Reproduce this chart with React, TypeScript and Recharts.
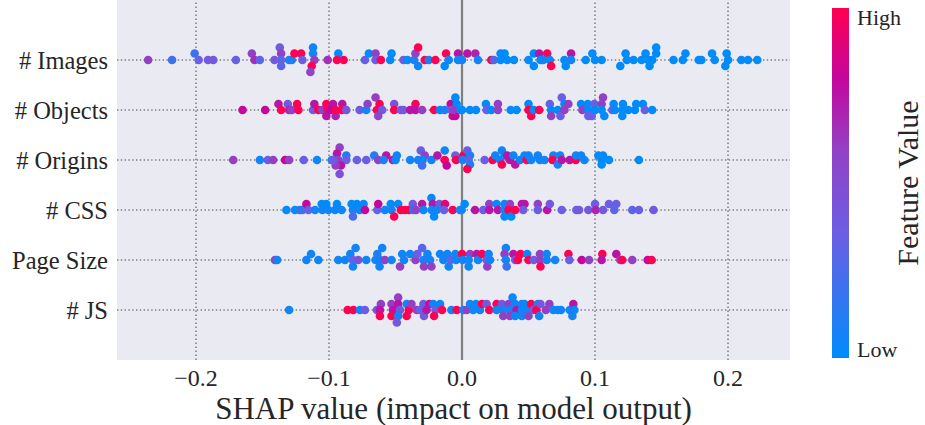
import React from "react";
import { ScatterChart, Scatter, XAxis, YAxis, CartesianGrid, ReferenceLine } from "recharts";

// Each point: [SHAP value, vertical swarm offset (in row units), normalised feature value 0..1]
type Pt = [number, number, number];

const featureNames = ["# JS", "Page Size", "# CSS", "# Origins", "# Objects", "# Images"];

const imagesPts: Pt[] = [
  [-0.236, 0, 0.6], [-0.218, 0, 0.2], [-0.201, 0.13, 0.2], [-0.198, 0, 0.35], [-0.191, 0, 0.4], [-0.187, 0, 0.4],
  [-0.17, 0, 0.35], [-0.158, 0.13, 0.6], [-0.156, 0, 0.65], [-0.152, 0, 0.3], [-0.137, 0.25, 0.4], [-0.136, 0.13, 0.6],
  [-0.141, 0, 0.4], [-0.136, 0, 0.3], [-0.136, -0.12, 0.3], [-0.13, 0, 0.1], [-0.128, 0, 0.1], [-0.126, 0.13, 1],
  [-0.121, 0.13, 1], [-0.12, 0, 0.35], [-0.112, 0.25, 0.05], [-0.112, 0.13, 0.05], [-0.111, 0, 0.6], [-0.113, -0.12, 1],
  [-0.114, -0.24, 0.55], [-0.101, 0, 0.65], [-0.093, 0.13, 0], [-0.094, 0, 1], [-0.089, 0, 1], [-0.073, 0, 0.35],
  [-0.07, 0.13, 0], [-0.065, 0.13, 0.6], [-0.065, 0, 0.35], [-0.061, 0, 1], [-0.053, 0.13, 0], [-0.054, 0, 0],
  [-0.044, 0, 0.4], [-0.041, 0, 0], [-0.036, 0, 0.1], [-0.035, 0.13, 0.6], [-0.033, 0.25, 1], [-0.033, -0.12, 0.05],
  [-0.028, 0, 1], [-0.025, 0, 0.1], [-0.02, 0, 1], [-0.012, 0.13, 1], [-0.013, -0.12, 0], [-0.01, 0, 0.05],
  [-0.003, 0.13, 0.75], [-0.003, 0, 0.05], [0.0, 0, 0.05], [0.004, 0.13, 0.75], [0.01, 0.13, 0.7], [0.012, 0, 0.05],
  [0.022, 0, 1], [0.024, 0, 0.3], [0.029, 0.13, 0], [0.032, 0.13, 0], [0.029, 0, 0], [0.034, 0, 0], [0.039, 0, 0],
  [0.05, 0, 0], [0.054, 0.13, 0], [0.058, 0.13, 0.75], [0.064, 0.13, 1], [0.054, -0.12, 0], [0.059, 0, 0],
  [0.061, 0, 0.05], [0.066, 0, 0], [0.067, -0.12, 1], [0.077, 0, 0], [0.082, 0.13, 0.75], [0.082, 0, 0.05],
  [0.078, -0.12, 0], [0.093, 0, 0], [0.098, 0.13, 0], [0.1, 0, 0], [0.105, 0, 0], [0.119, -0.12, 0], [0.123, 0.13, 0],
  [0.124, 0, 0], [0.129, 0, 0], [0.135, 0, 0], [0.138, 0.13, 0], [0.14, 0, 0], [0.141, -0.12, 0], [0.146, 0.25, 0],
  [0.146, 0.13, 0], [0.143, 0, 0], [0.159, 0, 0], [0.168, 0.13, 0], [0.166, 0, 0], [0.178, 0, 0], [0.18, 0, 0],
  [0.188, 0.13, 0], [0.19, 0, 0], [0.199, 0.13, 0], [0.2, 0, 0], [0.198, -0.12, 0], [0.21, 0, 0], [0.215, 0, 0],
  [0.222, 0, 0],
];

const objectsPts: Pt[] = [
  [-0.165, 0, 0.8], [-0.148, 0, 0.8], [-0.138, 0.12, 0.75], [-0.136, 0, 1], [-0.131, 0.12, 0.4], [-0.13, 0, 0.7],
  [-0.128, 0, 0.6], [-0.124, 0.12, 1], [-0.123, 0, 1], [-0.112, 0, 0.4], [-0.111, 0.12, 0.75], [-0.108, 0, 1],
  [-0.105, 0, 0.55], [-0.102, 0.12, 1], [-0.101, 0, 1], [-0.102, -0.12, 0.75], [-0.097, 0.12, 0.75], [-0.099, 0, 0.8],
  [-0.095, -0.12, 0.7], [-0.095, 0, 1], [-0.09, 0.12, 0.75], [-0.0905, 0, 1], [-0.087, 0, 0.4], [-0.077, 0, 0.4],
  [-0.072, 0, 0.05], [-0.071, 0.12, 0.6], [-0.065, 0.25, 0.6], [-0.062, 0.12, 1], [-0.064, 0, 1], [-0.06, 0, 0.4],
  [-0.063, -0.12, 0.55], [-0.051, 0.12, 0.45], [-0.051, 0, 1], [-0.046, 0, 0.4], [-0.044, 0, 0.4], [-0.039, 0, 0.75],
  [-0.035, 0.12, 1], [-0.035, 0, 0.75], [-0.03, 0, 0.6], [-0.021, 0, 1], [-0.0165, 0, 0], [-0.013, 0, 0.1],
  [-0.0085, 0.12, 0.8], [-0.005, 0.25, 0], [-0.004, 0.12, 0], [-0.008, 0, 0.35], [-0.007, -0.12, 0.85],
  [-0.005, -0.12, 0.8], [-0.0065, 0, 0.6], [-0.001, 0, 0], [0.0, 0, 0], [0.006, 0, 0], [0.0105, 0, 0],
  [0.018, 0.12, 0], [0.0185, 0, 0.35], [0.022, 0, 0], [0.027, 0.12, 0.6], [0.027, 0, 0.6], [0.0366, 0, 0],
  [0.041, 0, 0], [0.05, 0.12, 0], [0.05, 0, 1], [0.052, -0.12, 1], [0.054, 0, 0], [0.058, 0, 1], [0.066, 0.12, 0.35],
  [0.067, 0, 0], [0.067, -0.12, 0.6], [0.072, 0, 0], [0.074, -0.12, 0.35], [0.075, 0.25, 0.35], [0.077, 0.12, 0],
  [0.08, 0.12, 0.6], [0.077, 0, 0.6], [0.0895, 0.12, 0], [0.0905, 0, 0.6], [0.0945, 0.12, 0], [0.095, 0, 0],
  [0.095, -0.12, 0.35], [0.0975, -0.12, 0.35], [0.0995, 0.12, 0.35], [0.1, 0, 0], [0.106, 0.25, 0.6],
  [0.105, 0.12, 0.6], [0.105, 0, 0], [0.107, -0.12, 0], [0.114, 0.12, 0], [0.113, 0, 0.35], [0.115, 0, 0],
  [0.121, 0.12, 0], [0.1205, 0, 0], [0.1205, -0.12, 0], [0.125, 0, 0], [0.13, 0, 0], [0.131, 0.12, 0],
  [0.136, 0.12, 0], [0.1375, 0, 0.35], [0.143, 0, 0],
];

const originsPts: Pt[] = [
  [-0.172, 0, 0.6], [-0.152, 0, 0.05], [-0.146, 0, 0.35], [-0.142, 0, 0.6], [-0.133, 0, 0.8], [-0.13, 0, 0.6],
  [-0.119, 0, 0.35], [-0.109, 0, 0.05], [-0.098, 0, 0.05], [-0.092, 0.25, 0.6], [-0.094, 0.13, 0.75], [-0.093, 0, 0.6],
  [-0.087, 0.09, 0.1], [-0.087, 0, 0.35], [-0.091, -0.11, 0.75], [-0.092, -0.28, 0.45], [-0.095, -0.11, 0.6],
  [-0.097, 0, 0.35], [-0.079, 0, 0.35], [-0.072, 0, 0.35], [-0.066, 0.09, 0.1], [-0.063, 0, 0.6], [-0.057, 0.09, 0.75],
  [-0.059, 0, 0.1], [-0.052, 0, 0.75], [-0.049, 0.09, 0.05], [-0.05, 0, 0.05], [-0.039, 0, 0.05], [-0.033, 0, 0.05],
  [-0.031, 0.19, 0.35], [-0.028, 0.09, 0.6], [-0.0296, 0, 0.05], [-0.03, -0.11, 0.2], [-0.023, 0, 0.05],
  [-0.0185, 0.09, 0.75], [-0.013, 0.19, 0.05], [-0.013, 0, 1], [-0.0115, -0.11, 0.8], [-0.005, 0.09, 0.35],
  [-0.0045, 0, 1], [0.001, 0.09, 1], [0.0005, 0, 0.05], [0.004, 0.19, 0.35], [0.006, 0.09, 0.05], [0.005, 0, 0.35],
  [0.006, -0.09, 0.05], [0.004, -0.18, 1], [0.017, 0, 0.35], [0.023, 0, 1], [0.025, 0.09, 0.05], [0.03, 0.19, 0.05],
  [0.0286, 0, 0.05], [0.03, -0.09, 1], [0.032, 0.09, 0.05], [0.034, 0.09, 0.75], [0.036, 0, 0.75], [0.0386, 0.09, 0.05],
  [0.04, -0.09, 0.75], [0.0436, 0, 0.05], [0.047, 0.09, 0.05], [0.0486, 0, 1], [0.05, 0.09, 0.05], [0.052, 0, 0.05],
  [0.057, 0.09, 0.05], [0.0586, 0, 0.05], [0.062, 0, 0.05], [0.0687, 0.09, 0.05], [0.068, 0, 1], [0.072, -0.09, 0.05],
  [0.0737, 0.09, 0.05], [0.075, 0, 0.75], [0.081, 0, 0.75], [0.0855, 0, 1], [0.0857, 0.09, 0.05], [0.0895, 0.09, 0.05],
  [0.092, 0, 0.05], [0.1025, 0.09, 0], [0.106, 0.09, 0], [0.105, 0, 0], [0.105, -0.09, 0], [0.1105, 0, 0], [0.133, 0, 0],
];

const cssPts: Pt[] = [
  [-0.132, 0, 0], [-0.1256, 0, 0.05], [-0.122, 0, 0.1], [-0.12, 0, 0.2], [-0.117, 0.12, 0.8], [-0.1155, 0, 0.35],
  [-0.1105, 0, 0.05], [-0.1055, 0.12, 0], [-0.105, 0, 0.05], [-0.102, 0.12, 0], [-0.1005, 0, 0.05], [-0.094, 0.12, 0],
  [-0.0955, 0, 0.05], [-0.0905, 0, 0.05], [-0.083, 0.12, 0], [-0.082, 0, 0.05], [-0.082, -0.13, 0.25], [-0.079, 0.12, 0],
  [-0.077, 0, 0.05], [-0.074, 0.12, 0], [-0.073, 0, 0.8], [-0.0637, 0, 0.35], [-0.063, 0.12, 0.8], [-0.058, 0, 0.05],
  [-0.0536, 0.12, 0], [-0.053, 0, 0.05], [-0.051, -0.13, 1], [-0.048, 0.12, 0], [-0.046, 0, 1], [-0.043, 0, 1],
  [-0.04, 0, 1], [-0.037, 0.12, 0.4], [-0.0366, 0, 0.05], [-0.0346, 0, 0.6], [-0.03, 0.12, 0.75], [-0.029, 0, 0.05],
  [-0.023, 0.24, 0], [-0.022, 0.12, 0.75], [-0.0228, 0, 0.05], [-0.021, -0.13, 0], [-0.017, 0.12, 0.4], [-0.019, 0, 0.05],
  [-0.0128, 0.12, 0.9], [-0.0135, 0, 0.35], [-0.007, 0, 1], [-0.0015, 0, 0.05], [0.002, 0.12, 0], [-0.0003, 0, 0.05],
  [0.0098, 0, 0.75], [0.016, 0, 0.35], [0.0205, 0.12, 0.6], [0.0205, 0, 0.75], [0.026, 0.12, 0], [0.027, 0, 0.75],
  [0.032, 0.12, 0], [0.032, 0, 0.05], [0.032, -0.13, 0], [0.036, 0.12, 0.6], [0.035, 0, 1], [0.037, -0.13, 0],
  [0.04, 0, 1], [0.045, 0.12, 0.75], [0.047, 0.12, 0.75], [0.046, 0, 0.35], [0.057, 0.12, 0.6], [0.057, 0, 0.35],
  [0.064, 0, 0.75], [0.066, 0.12, 0.4], [0.075, 0, 0.35], [0.086, 0, 0.35], [0.088, 0, 0.4], [0.095, 0, 0.4],
  [0.1, 0.12, 0.35], [0.1005, 0, 0.7], [0.106, 0, 0.4], [0.1105, 0.12, 0.35], [0.116, 0.12, 0.35], [0.1145, 0, 0.3],
  [0.128, 0, 0.3], [0.133, 0, 0.35], [0.144, 0, 0.4],
];

const pageSizePts: Pt[] = [
  [-0.1406, 0, 0.6], [-0.139, 0, 0.05], [-0.117, 0, 0.05], [-0.1135, 0.12, 0.05], [-0.108, 0, 0.05], [-0.093, 0, 0.05],
  [-0.088, 0, 0.05], [-0.084, 0.12, 0.05], [-0.082, 0, 0.35], [-0.08, 0.24, 0.05], [-0.078, 0, 0.45], [-0.082, -0.13, 0.05],
  [-0.072, 0, 0.05], [-0.065, 0, 0.05], [-0.0637, 0.12, 0.1], [-0.06, 0.24, 0.05], [-0.0617, 0, 0.1], [-0.058, 0, 0.6],
  [-0.062, -0.13, 0.05], [-0.053, 0, 0.05], [-0.0466, -0.13, 0.6], [-0.045, 0.12, 0.05], [-0.0436, 0, 0.05],
  [-0.039, 0.12, 0.05], [-0.035, 0, 0.6], [-0.0336, 0.12, 0.35], [-0.03, 0.24, 0.3], [-0.029, 0, 0.05],
  [-0.0286, -0.13, 0.6], [-0.026, 0.12, 0.05], [-0.024, 0, 0.05], [-0.023, -0.13, 0.6], [-0.0165, 0.12, 0.05],
  [-0.014, 0, 0.05], [-0.01, -0.13, 0.05], [-0.011, 0.12, 0.05], [-0.0085, 0, 0.35], [-0.005, 0.12, 0.05],
  [-0.0045, 0, 0.05], [0.0, 0.12, 1], [0.0005, 0, 0.05], [0.006, 0.12, 0.6], [0.005, 0, 0.05], [0.005, -0.13, 0.05],
  [0.011, 0.12, 0.75], [0.012, 0, 0.05], [0.015, 0.12, 1], [0.02, 0.12, 0.05], [0.0185, 0, 0.35], [0.019, -0.13, 0.6],
  [0.021, 0, 0.05], [0.033, 0.24, 0.05], [0.032, 0.12, 0.6], [0.033, 0, 0.05], [0.0336, -0.13, 0.2], [0.0386, 0.12, 0.75],
  [0.04, 0, 0.35], [0.042, 0, 1], [0.044, 0.12, 1], [0.049, 0.12, 0.05], [0.05, 0, 1], [0.054, 0, 0.35],
  [0.0586, 0.12, 0.6], [0.0586, 0, 0.6], [0.059, -0.13, 1], [0.0637, 0.12, 0.05], [0.0637, 0, 0.05], [0.07, 0, 0.05],
  [0.08, 0.12, 1], [0.0807, 0, 0.35], [0.09, 0, 0.8], [0.0955, 0, 0.6], [0.1055, 0.12, 1], [0.105, 0, 0.75],
  [0.116, 0.12, 0.75], [0.119, 0, 0.6], [0.1205, 0, 1], [0.128, 0, 0.6], [0.1396, 0, 0.8], [0.1426, 0, 1],
];

const jsPts: Pt[] = [
  [-0.13, 0, 0.05], [-0.086, 0, 1], [-0.0817, 0, 1], [-0.0767, 0, 0.05], [-0.073, 0, 0.4], [-0.064, 0, 0.4],
  [-0.061, 0.12, 0.6], [-0.0617, 0, 0.75], [-0.0617, -0.12, 1], [-0.053, 0.12, 0.6], [-0.052, 0, 0.75],
  [-0.053, -0.12, 1], [-0.048, 0.25, 0.6], [-0.048, 0.12, 0.75], [-0.0466, 0, 0.4], [-0.048, -0.12, 0.05],
  [-0.049, -0.25, 0.4], [-0.0416, 0.12, 0.05], [-0.04, 0, 1], [-0.0416, -0.12, 1], [-0.038, 0.12, 0.6], [-0.034, 0, 0.6],
  [-0.029, 0.12, 0.4], [-0.0316, 0, 0.35], [-0.0286, -0.12, 0.4], [-0.0266, 0, 0.75], [-0.0246, 0.12, 0.75],
  [-0.0216, 0.12, 0.05], [-0.02, 0, 0.4], [-0.021, -0.12, 1], [-0.0165, 0.12, 0.05], [-0.015, 0, 1], [-0.008, 0, 0.05],
  [-0.004, 0, 1], [0.001, 0, 0.05], [0.0035, 0, 0.6], [0.006, 0.12, 0.05], [0.0085, 0, 0.05], [0.0105, 0.12, 0.05],
  [0.0135, 0, 0.05], [0.015, 0.12, 1], [0.0185, 0.12, 0.4], [0.0205, 0, 1], [0.026, 0.12, 1], [0.026, 0, 0.05],
  [0.03, 0.12, 0.4], [0.031, 0, 0.05], [0.031, -0.12, 0.6], [0.035, 0.12, 0.6], [0.036, 0, 0.05], [0.036, -0.12, 0.6],
  [0.038, 0.25, 0.05], [0.04, 0.12, 0.05], [0.041, 0, 0.75], [0.04, -0.12, 0.05], [0.045, 0.12, 0.05], [0.045, 0, 0.05],
  [0.045, -0.12, 0.05], [0.047, 0.12, 0.05], [0.049, 0, 0.05], [0.05, -0.12, 0.6], [0.052, 0.12, 1], [0.0536, 0, 0.4],
  [0.057, 0.12, 0.05], [0.056, 0, 1], [0.059, 0.12, 0.4], [0.058, -0.12, 0.05], [0.063, 0, 0.6], [0.0657, 0.12, 0.6],
  [0.0687, 0, 0.05], [0.072, 0, 0.05], [0.0744, 0, 0.05], [0.081, 0, 0.05], [0.0837, 0.12, 0.75], [0.0845, 0, 0.05],
  [0.083, -0.12, 0.05],
];

const xTicks = [-0.2, -0.1, 0, 0.1, 0.2];
const yTicks = [0, 1, 2, 3, 4, 5];

// Blue -> purple -> red colour ramp used for feature values
const colorStops: [number, number[]][] = [
  [0, [0, 139, 251]],
  [0.35, [106, 95, 228]],
  [0.6, [148, 64, 196]],
  [0.8, [196, 6, 156]],
  [1, [255, 0, 82]],
];

function featureColor(f: number): string {
  for (let i = 1; i < colorStops.length; i++) {
    const [t1, c1] = colorStops[i];
    const [t0, c0] = colorStops[i - 1];
    if (f <= t1) {
      const u = (f - t0) / (t1 - t0);
      const c = c0.map((v, k) => Math.round(v + (c1[k] - v) * u));
      return `rgb(${c[0]},${c[1]},${c[2]})`;
    }
  }
  return "rgb(255,0,82)";
}

const rows: Pt[][] = [jsPts, pageSizePts, cssPts, originsPts, objectsPts, imagesPts];
const points = rows.flatMap((pts, row) =>
  pts.map(([x, dy, f]) => ({ x, y: row + dy, c: featureColor(f) }))
);

const FONT = '"Liberation Serif", "Times New Roman", "DejaVu Serif", serif';
const TEXT = "#262626";
const GRID = "#7d7d7d";

const fmtX = (v: number) => (v < 0 ? "\u2212" + Math.abs(v).toFixed(1) : v.toFixed(1));

const Dot = (p: any) => <circle cx={p.cx} cy={p.cy} r={4.3} fill={p.payload.c} />;

export default function App() {
  return (
    <div style={{ position: "absolute", left: 0, top: 0, width: 925, height: 425, background: "#fff" }}>
      <ScatterChart width={925} height={425} margin={{ top: 0, right: 135, bottom: 0, left: 0 }}>
        <CartesianGrid fill="#eaeaf2" horizontal={false} vertical={false} />
        <XAxis
          type="number"
          dataKey="x"
          domain={[-0.2594, 0.2466]}
          ticks={xTicks}
          tickFormatter={fmtX}
          axisLine={false}
          tickLine={false}
          tickSize={0}
          tickMargin={9}
          height={65}
          allowDataOverflow
          tick={{ fontFamily: FONT, fontSize: 24, fill: TEXT }}
        />
        <YAxis
          type="number"
          dataKey="y"
          domain={[-1, 6.2]}
          ticks={yTicks}
          tickFormatter={(v: number) => featureNames[v] ?? ""}
          axisLine={false}
          tickLine={false}
          tickSize={0}
          tickMargin={9}
          width={117}
          allowDataOverflow
          tick={{ fontFamily: FONT, fontSize: 24.5, fill: TEXT }}
        />
        <ReferenceLine x={0} stroke="#808080" strokeWidth={2.2} />
        {xTicks.map((t) => (
          <ReferenceLine key={`vx${t}`} x={t} stroke={GRID} strokeWidth={1.5} strokeDasharray="1.5 2.5" />
        ))}
        {yTicks.map((t) => (
          <ReferenceLine key={`hy${t}`} y={t} stroke={GRID} strokeWidth={1.3} strokeDasharray="1.4 2.4" />
        ))}
        <Scatter data={points} shape={Dot} isAnimationActive={false} />
      </ScatterChart>
      <svg width={925} height={425} style={{ position: "absolute", left: 0, top: 0, pointerEvents: "none" }}>
        <defs>
          <linearGradient id="fvRamp" x1="0" y1="1" x2="0" y2="0">
            {colorStops.map(([t, c]) => (
              <stop key={t} offset={t} stopColor={`rgb(${c[0]},${c[1]},${c[2]})`} />
            ))}
          </linearGradient>
        </defs>
        <rect x={832} y={8} width={17} height={350} fill="url(#fvRamp)" />
        <text x={857} y={25} fontFamily={FONT} fontSize={22} fill={TEXT}>High</text>
        <text x={857} y={357} fontFamily={FONT} fontSize={22} fill={TEXT}>Low</text>
        <text
          x={918}
          y={183}
          fontFamily={FONT}
          fontSize={30}
          fill={TEXT}
          textAnchor="middle"
          transform="rotate(-90 918 183)"
        >
          Feature Value
        </text>
        <text x={453.5} y={419} fontFamily={FONT} fontSize={31} fill={TEXT} textAnchor="middle">
          SHAP value (impact on model output)
        </text>
      </svg>
    </div>
  );
}
